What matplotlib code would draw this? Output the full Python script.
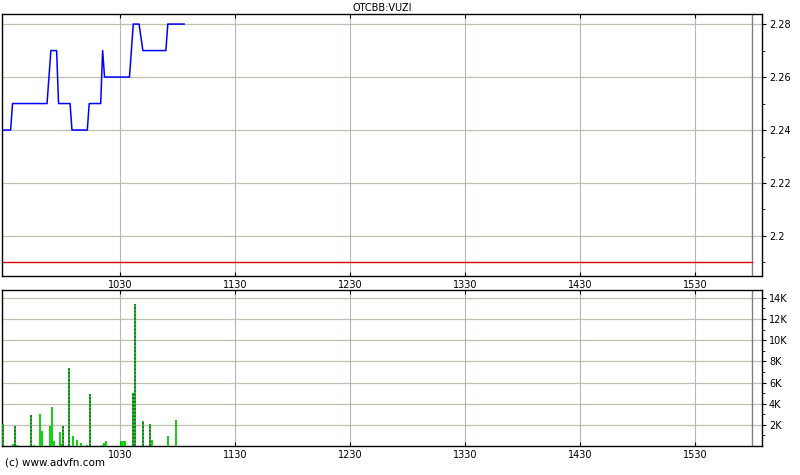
import matplotlib
matplotlib.use("Agg")
import matplotlib.pyplot as plt
import numpy as np

# time axis in minutes since midnight (1030 -> 630)
price_minutes = [568.5, 573, 574, 592, 594, 597, 598, 604, 605, 613, 614, 620, 621, 622,
                 635, 637, 640, 642, 654, 655, 663.5]
price_values = [2.24, 2.24, 2.25, 2.25, 2.27, 2.27, 2.25, 2.25, 2.24, 2.24, 2.25, 2.25, 2.27, 2.26,
                2.26, 2.28, 2.28, 2.27, 2.27, 2.28, 2.28]
prev_close = 2.19

vol_minutes = [569.2, 574.4, 575.5, 576.5, 583.8, 585.4, 588.5, 589.5, 593.7, 594.7, 595.8,
               598.9, 599.4, 600.5, 603.6, 605.7, 607.8, 609.8, 613.0, 614.5, 620.8, 621.8,
               622.9, 630.7, 631.7, 632.8, 636.9, 638.0, 642.1, 645.8, 646.8, 655.2, 659.3]
vol_values = [2100, 200, 1900, 100, 2900, 100, 3050, 1400, 1900, 3700, 500,
              1300, 200, 1900, 7400, 950, 550, 300, 100, 4900, 100, 300,
              500, 500, 500, 500, 5000, 13400, 2400, 2050, 570, 950, 2460]
vol_dark = [1, 0, 1, 0, 1, 0, 0, 0, 0, 0, 0,
            0, 0, 1, 1, 0, 0, 0, 0, 1, 0, 0,
            0, 0, 0, 0, 1, 1, 1, 1, 0, 0, 0]

hour_ticks = [630, 690, 750, 810, 870, 930]
hour_labels = ["1030", "1130", "1230", "1330", "1430", "1530"]
close_minute = 960
xmin, xmax = 568.5, 965

plt.rcParams['font.family'] = ['DejaVu Sans']
plt.rcParams['font.size'] = 7

fig = plt.figure(figsize=(8, 4.75), dpi=100)
ax1 = fig.add_axes([0.0025, 0.419, 0.95, 0.5515])
ax2 = fig.add_axes([0.0025, 0.061, 0.95, 0.3285])

hgrid = dict(color='#c0c0b0', linewidth=0.9, zorder=0)
vgrid = dict(color='#b0baba', linewidth=0.8, zorder=0)

# price panel
for y in [2.2, 2.22, 2.24, 2.26, 2.28]:
    ax1.axhline(y, **hgrid)
for t in hour_ticks:
    ax1.axvline(t, **vgrid)
ax1.axvline(close_minute, color='#808080', linewidth=1.0, zorder=1)
ax1.plot([xmin, close_minute], [prev_close, prev_close], color='#dd0000', linewidth=1.0, zorder=2)
ax1.plot(price_minutes, price_values, color='#0000ff', linewidth=1.1, zorder=3)
ax1.set_xlim(xmin, xmax)
ax1.set_ylim(2.1849, 2.2838)
ax1.yaxis.tick_right()
ax1.set_yticks([2.2, 2.22, 2.24, 2.26, 2.28])
ax1.set_yticklabels(["2.2", "2.22", "2.24", "2.26", "2.28"])
ax1.set_yticks([2.19, 2.21, 2.23, 2.25, 2.27], minor=True)
ax1.set_xticks(hour_ticks)
ax1.set_xticklabels(hour_labels)
ax1.tick_params(axis='y', which='both', direction='out', length=3, pad=2)
ax1.tick_params(axis='y', which='minor', length=2)
ax1.tick_params(axis='x', direction='in', length=3, pad=3, top=True)
ax1.set_title("OTCBB:VUZI", fontsize=7, pad=2)

# volume panel
for y in range(2000, 16000, 2000):
    ax2.axhline(y, **hgrid)
for t in hour_ticks:
    ax2.axvline(t, **vgrid)
ax2.axvline(close_minute, color='#808080', linewidth=1.0, zorder=1)
vm = np.array(vol_minutes)
vv = np.array(vol_values)
vd = np.array(vol_dark, dtype=bool)
ax2.vlines(vm, 0, vv, color='#00cc00', linewidth=1.3, zorder=3)
ax2.vlines(vm[vd], 0, vv[vd], color='#306030', linewidth=1.3, linestyles=(0, (1, 1)), zorder=4)
ax2.set_xlim(xmin, xmax)
ax2.set_ylim(0, 14740)
ax2.yaxis.tick_right()
ax2.set_yticks(range(2000, 16000, 2000))
ax2.set_yticklabels([f"{k}K" for k in range(2, 16, 2)])
ax2.set_yticks(range(1000, 15000, 2000), minor=True)
ax2.set_xticks(hour_ticks)
ax2.set_xticklabels(hour_labels)
ax2.tick_params(axis='y', which='both', direction='out', length=3, pad=2)
ax2.tick_params(axis='y', which='minor', length=2)
ax2.tick_params(axis='x', direction='in', length=3, pad=3, top=True)

for ax in (ax1, ax2):
    for s in ax.spines.values():
        s.set_linewidth(1.0)

fig.text(0.006, 0.015, "(c) www.advfn.com", fontsize=7.5, ha='left', va='bottom')

fig.savefig("out.png", dpi=100)
